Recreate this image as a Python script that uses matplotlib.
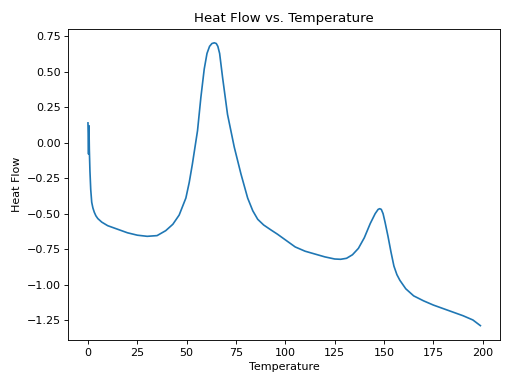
import numpy as np
import matplotlib as mpl
mpl.use('Agg')
import matplotlib.pyplot as plt

# temperature / heat flow
temperature = [0, 0.3, 0.5, 0.7, 1.0, 1.4, 1.9, 2.5, 3.2, 4,
               5, 7, 10, 15, 20, 25, 30, 35, 39.4, 43,
               46.2, 49.6, 51.3, 52.9, 55.5, 57.2, 58.9, 60.3, 61.6, 62.8,
               64.0, 65.0, 65.8, 66.7, 68.2, 70.7, 74.1, 77.5, 80.9, 83.5,
               86, 89, 92.7, 96, 100, 105, 110, 115, 120, 125,
               128, 131, 134, 137, 140, 143, 145.5, 147, 147.8, 148.6,
               149.5, 150.5, 152, 153.5, 155, 156.5, 158, 161, 165, 170,
               175, 180, 185, 190, 195, 198.8]
heat_flow = [0.14, -0.08, 0.12, -0.05, -0.2, -0.33, -0.42, -0.46, -0.49, -0.515,
             -0.535, -0.56, -0.585, -0.61, -0.635, -0.652, -0.66, -0.655, -0.62, -0.575,
             -0.51, -0.39, -0.28, -0.15, 0.085, 0.32, 0.52, 0.63, 0.68, 0.70,
             0.705, 0.70, 0.68, 0.63, 0.46, 0.20, -0.03, -0.22, -0.39, -0.48,
             -0.54, -0.58, -0.615, -0.645, -0.685, -0.735, -0.765, -0.785, -0.805, -0.82,
             -0.822, -0.815, -0.79, -0.745, -0.67, -0.57, -0.5, -0.47, -0.465, -0.47,
             -0.5, -0.56, -0.66, -0.77, -0.87, -0.93, -0.97, -1.03, -1.08, -1.115,
             -1.145, -1.17, -1.195, -1.22, -1.25, -1.29]

fig, ax = plt.subplots(figsize=(6.4, 4.8), dpi=80)
ax.plot(temperature, heat_flow)
ax.set_xlabel('Temperature')
ax.set_ylabel('Heat Flow')
ax.set_title('Heat Flow vs. Temperature')
fig.tight_layout()
fig.savefig('out.png')
